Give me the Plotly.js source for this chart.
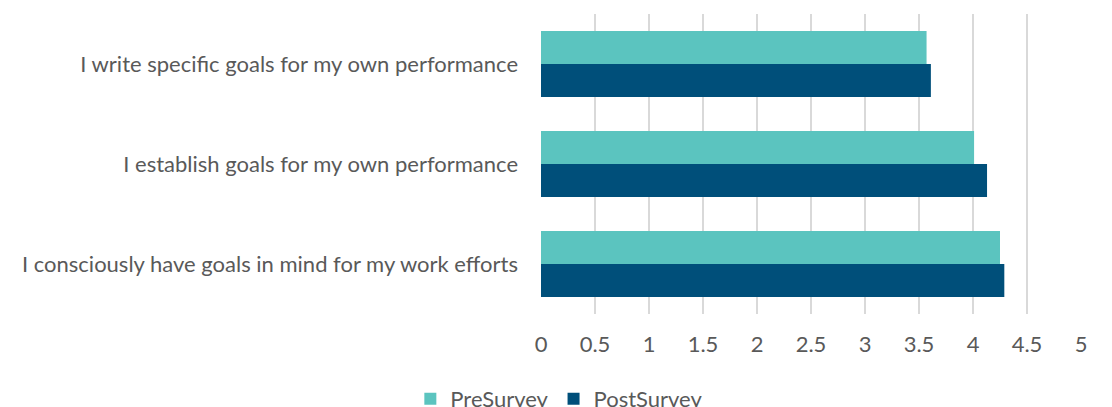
<!DOCTYPE html>
<html>
<head>
<meta charset="utf-8">
<script src="https://cdn.plot.ly/plotly-3.0.1.min.js"></script>
<style>html,body{margin:0;padding:0;background:#fff;}#chart{width:1112px;height:407px;}</style>
</head>
<body>
<div id="chart"></div>
<script>
const categories = [
  "I write specific goals for my own performance",
  "I establish goals for my own performance",
  "I consciously have goals in mind for my work efforts"
];
const preSurvey = [3.57, 4.01, 4.25];
const postSurvey = [3.61, 4.13, 4.29];
const xTickValues = [0, 0.5, 1, 1.5, 2, 2.5, 3, 3.5, 4, 4.5, 5];

const traces = [
  {type: 'bar', orientation: 'h', name: 'PreSurvey', y: categories, x: preSurvey,
   marker: {color: '#5BC4BF'}, hoverinfo: 'x'},
  {type: 'bar', orientation: 'h', name: 'PostSurvey', y: categories, x: postSurvey,
   marker: {color: '#004F7A'}, hoverinfo: 'x'}
];

const layout = {
  width: 1112, height: 407,
  margin: {l: 541, r: 31, t: 14, b: 93, pad: 0},
  paper_bgcolor: '#fff', plot_bgcolor: '#fff',
  font: {family: 'Lato, Open Sans, sans-serif', size: 22, color: '#595959'},
  barmode: 'group', bargap: 0.34, bargroupgap: 0,
  xaxis: {
    range: [0, 5], tickvals: xTickValues, ticktext: xTickValues.map(String),
    showgrid: true, gridcolor: '#d9d9d9', gridwidth: 1.5,
    zeroline: false, showline: false,
    ticks: '', ticklabelstandoff: 15,
    tickfont: {size: 22, color: '#595959'}, fixedrange: true
  },
  yaxis: {
    autorange: 'reversed', showgrid: false, zeroline: false, showline: false,
    ticks: '', ticklabelstandoff: 22,
    tickfont: {size: 22, color: '#595959'}, fixedrange: true
  },
  showlegend: true,
  legend: {
    orientation: 'h', xref: 'container', yref: 'container',
    x: 0.503, xanchor: 'center', y: 0.02, yanchor: 'middle',
    font: {size: 22, color: '#595959'}, itemwidth: 30, traceorder: 'normal'
  }
};

Plotly.newPlot('chart', traces, layout, {displayModeBar: false, staticPlot: true});
</script>
</body>
</html>
